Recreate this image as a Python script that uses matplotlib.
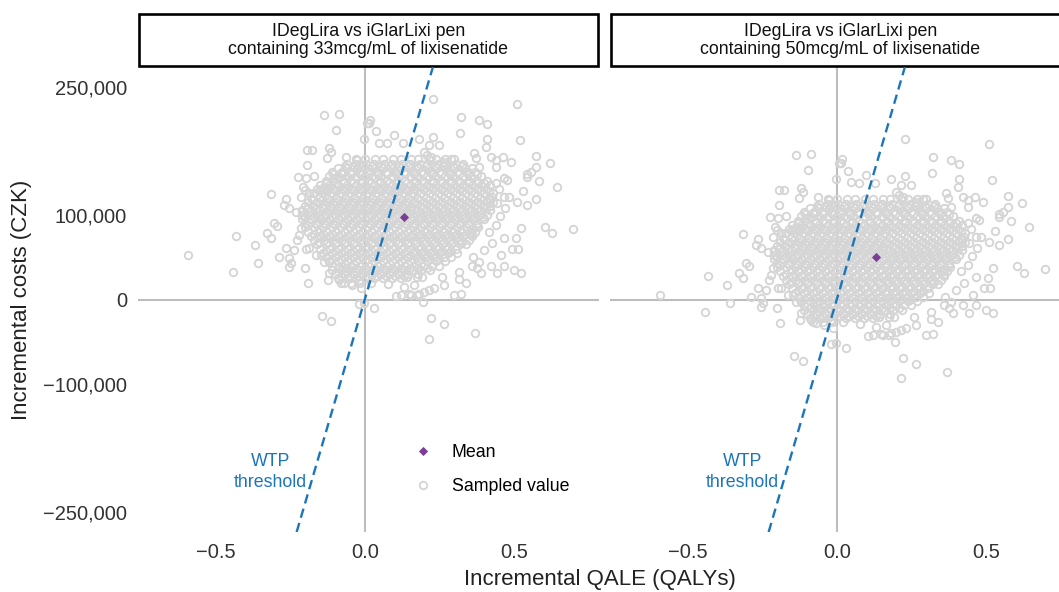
import matplotlib
matplotlib.use("Agg")
import matplotlib.pyplot as plt
from matplotlib.lines import Line2D
from matplotlib.patches import Rectangle
from matplotlib.ticker import FuncFormatter

plt.rcParams['font.family'] = ['Liberation Sans', 'DejaVu Sans']

panel_titles = ["IDegLira vs iGlarLixi pen\ncontaining 33mcg/mL of lixisenatide",
                "IDegLira vs iGlarLixi pen\ncontaining 50mcg/mL of lixisenatide"]

# willingness-to-pay threshold, CZK per QALY
wtp = 1200000

# mean incremental results (QALYs, thousand CZK)
mean_qale = [0.132, 0.132]
mean_cost = [97.4, 50.2]

out_qale = [-0.138, -0.087, -0.098, -0.004, 0.007, -0.195, -0.178, -0.121, -0.114, -0.127,
            -0.064, -0.027, -0.195, -0.027, -0.225, -0.198, -0.171, -0.208, -0.201, -0.188,
            -0.215, -0.315, -0.265, -0.272, -0.255, -0.232, -0.211, -0.138, -0.144, -0.128,
            -0.104, -0.081, -0.594, -0.430, -0.369, -0.440, -0.359, -0.329, -0.315, -0.305,
            -0.295, -0.265, -0.289, -0.255, -0.248, -0.255, -0.238, -0.228, -0.221, -0.215,
            -0.201, -0.191, -0.198, -0.188, -0.164, -0.148, -0.138, -0.121, -0.121, -0.124,
            -0.087, -0.070, -0.044, -0.020, -0.013, -0.087, -0.064, -0.044, -0.003, -0.144,
            -0.114, 0.228, 0.510, 0.017, 0.013, 0.037, 0.322, 0.383, 0.409, 0.319,
            0.097, 0.047, 0.074, 0.128, 0.181, 0.228, 0.248, 0.215, 0.198, 0.208,
            0.221, 0.409, 0.406, 0.520, 0.423, 0.440, 0.463, 0.490, 0.574, 0.621,
            0.289, 0.265, 0.366, 0.372, 0.383, 0.440, 0.574, 0.544, 0.557, 0.544,
            0.584, 0.466, 0.477, 0.440, 0.530, 0.644, 0.466, 0.483, 0.510, 0.544,
            0.574, 0.426, 0.443, 0.604, 0.628, 0.698, 0.523, 0.507, 0.493, 0.513,
            0.466, 0.456, 0.466, 0.500, 0.523, 0.443, 0.426, 0.423, 0.389, 0.383,
            0.362, 0.359, 0.376, 0.315, 0.315, 0.339, 0.322, 0.258, 0.265, 0.232,
            0.198, 0.195, 0.174, 0.191, 0.141, 0.164, 0.174, 0.131, 0.121, 0.154,
            0.077, 0.030, 0.221, 0.265, 0.215, 0.369, -0.020, 0.104, 0.148, 0.181,
            0.215, 0.299, 0.450, 0.470, 0.452, 0.440, 0.415, 0.400]

out_cost_33 = [217, 219, 200, 189, 208, 176, 176, 178, 174, 167,
               168, 164, 158, 154, 144, 143, 145, 133, 129, 125,
               121, 124, 118, 111, 108, 103, 104, 132, 129, 138,
               143, 149, 52, 75, 64, 32, 43, 78, 72, 90,
               87, 61, 50, 49, 43, 38, 58, 70, 76, 84,
               37, 19, 60, 61, 52, 52, 44, 44, 31, 23,
               23, 19, 17, 23, 13, 38, 37, 38, -4, -19,
               -25, 236, 230, 212, 208, 199, 215, 211, 207, 196,
               194, 185, 184, 184, 189, 192, 182, 182, 174, 170,
               168, 189, 180, 188, 168, 164, 168, 162, 169, 161,
               166, 162, 173, 167, 156, 156, 156, 148, 150, 144,
               140, 143, 141, 137, 128, 132, 121, 121, 115, 111,
               118, 121, 114, 86, 78, 83, 84, 72, 60, 60,
               73, 52, 40, 35, 31, 31, 66, 40, 31, 44,
               50, 40, 37, 32, 24, 20, 6, 26, 17, 13,
               9, -3, 26, 26, 26, 17, 5, 15, 5, 5,
               18, -10, -22, -29, -46, -39, -5, 4, 6, 7,
               11, 5, 130, 108, 98, 88, 80, 58]

out_cost_50 = [170, 172, 153, 142, 161, 129, 129, 131, 127, 120,
               121, 117, 111, 107, 97, 96, 98, 86, 82, 78,
               74, 77, 71, 64, 61, 56, 57, 85, 82, 91,
               96, 102, 5, 28, 17, -15, -4, 31, 25, 43,
               40, 14, 3, 2, -4, -9, 11, 23, 29, 37,
               -10, -28, 13, 14, 5, 5, -3, -3, -16, -24,
               -24, -28, -30, -24, -34, -9, -10, -9, -51, -66,
               -72, 189, 183, 165, 161, 152, 168, 164, 160, 149,
               147, 138, 137, 137, 142, 145, 135, 135, 127, 123,
               121, 142, 133, 141, 121, 117, 121, 115, 122, 114,
               119, 115, 126, 120, 109, 109, 109, 101, 103, 97,
               93, 96, 94, 90, 81, 85, 74, 74, 68, 64,
               71, 74, 67, 39, 31, 36, 37, 25, 13, 13,
               26, 5, -7, -12, -16, -16, 19, -7, -16, -3,
               3, -7, -10, -15, -23, -27, -41, -21, -30, -34,
               -38, -50, -21, -21, -21, -30, -42, -32, -42, -42,
               -29, -57, -69, -76, -93, -86, -52, -43, -41, -40,
               -36, -42, 83, 61, 51, 41, 33, 11]

# dense core of the cloud, estimated row by row (QALYs per cost band)
core_qale = [
    [-0.03, 0.00, 0.035, 0.06, 0.095, 0.12, 0.155, 0.18, 0.215, 0.24, 0.27, 0.30],
    [-0.06, -0.03, 0.005, 0.03, 0.065, 0.09, 0.125, 0.15, 0.185, 0.21, 0.245, 0.27, 0.305, 0.33],
    [-0.09, -0.06, -0.025, 0.00, 0.035, 0.06, 0.095, 0.12, 0.155, 0.18, 0.215, 0.24, 0.275, 0.30, 0.335, 0.36],
    [-0.11, -0.075, -0.05, -0.015, 0.01, 0.045, 0.07, 0.105, 0.13, 0.165, 0.19, 0.225, 0.25, 0.285, 0.31, 0.345, 0.37],
    [-0.12, -0.09, -0.06, -0.03, 0.00, 0.025, 0.055, 0.09, 0.115, 0.15, 0.175, 0.21, 0.235, 0.27, 0.295, 0.33, 0.355, 0.39],
    [-0.13, -0.105, -0.07, -0.045, -0.01, 0.015, 0.05, 0.075, 0.11, 0.135, 0.17, 0.195, 0.23, 0.255, 0.29, 0.315, 0.35, 0.375, 0.41],
    [-0.15, -0.12, -0.09, -0.06, -0.03, 0.00, 0.03, 0.06, 0.09, 0.12, 0.15, 0.18, 0.21, 0.24, 0.27, 0.30, 0.33, 0.36, 0.39, 0.42],
    [-0.16, -0.135, -0.105, -0.075, -0.045, -0.015, 0.015, 0.045, 0.075, 0.105, 0.135, 0.165, 0.195, 0.225, 0.255, 0.285, 0.315, 0.345, 0.375, 0.405],
    [-0.17, -0.14, -0.11, -0.08, -0.05, -0.02, 0.01, 0.04, 0.07, 0.10, 0.13, 0.16, 0.19, 0.22, 0.25, 0.28, 0.31, 0.34, 0.37, 0.40, 0.43],
    [-0.18, -0.155, -0.125, -0.095, -0.065, -0.035, -0.005, 0.025, 0.055, 0.085, 0.115, 0.145, 0.175, 0.205, 0.235, 0.265, 0.295, 0.325, 0.355, 0.385, 0.415],
    [-0.19, -0.16, -0.13, -0.10, -0.07, -0.04, -0.01, 0.02, 0.05, 0.08, 0.11, 0.14, 0.17, 0.20, 0.23, 0.26, 0.29, 0.32, 0.35, 0.38, 0.41, 0.43],
    [-0.20, -0.175, -0.145, -0.115, -0.085, -0.055, -0.025, 0.005, 0.035, 0.065, 0.095, 0.125, 0.155, 0.185, 0.215, 0.245, 0.275, 0.305, 0.335, 0.365, 0.395, 0.42],
    [-0.21, -0.18, -0.15, -0.12, -0.09, -0.06, -0.03, 0.00, 0.03, 0.06, 0.09, 0.12, 0.15, 0.18, 0.21, 0.24, 0.27, 0.30, 0.33, 0.36, 0.39, 0.42],
    [-0.21, -0.185, -0.155, -0.125, -0.095, -0.065, -0.035, -0.005, 0.025, 0.055, 0.085, 0.115, 0.145, 0.175, 0.205, 0.235, 0.265, 0.295, 0.325, 0.355, 0.385, 0.41],
    [-0.21, -0.18, -0.15, -0.12, -0.09, -0.06, -0.03, 0.00, 0.03, 0.06, 0.09, 0.12, 0.15, 0.18, 0.21, 0.24, 0.27, 0.30, 0.33, 0.36, 0.40],
    [-0.20, -0.165, -0.135, -0.105, -0.075, -0.045, -0.015, 0.015, 0.045, 0.075, 0.105, 0.135, 0.165, 0.195, 0.225, 0.255, 0.285, 0.315, 0.345, 0.375],
    [-0.20, -0.17, -0.14, -0.11, -0.08, -0.05, -0.02, 0.01, 0.04, 0.07, 0.10, 0.13, 0.16, 0.19, 0.22, 0.25, 0.28, 0.31, 0.34, 0.38],
    [-0.19, -0.155, -0.125, -0.095, -0.065, -0.035, -0.005, 0.025, 0.055, 0.085, 0.115, 0.145, 0.175, 0.205, 0.235, 0.265, 0.295, 0.325, 0.355, 0.37],
    [-0.18, -0.15, -0.12, -0.09, -0.06, -0.03, 0.00, 0.03, 0.06, 0.09, 0.12, 0.15, 0.18, 0.21, 0.24, 0.27, 0.30, 0.33, 0.36],
    [-0.17, -0.135, -0.105, -0.075, -0.045, -0.015, 0.015, 0.045, 0.075, 0.105, 0.135, 0.165, 0.195, 0.225, 0.255, 0.285, 0.315, 0.35],
    [-0.16, -0.13, -0.10, -0.07, -0.04, -0.01, 0.02, 0.05, 0.08, 0.11, 0.14, 0.17, 0.20, 0.23, 0.26, 0.29, 0.32, 0.34],
    [-0.15, -0.115, -0.085, -0.055, -0.025, 0.005, 0.035, 0.065, 0.095, 0.125, 0.155, 0.185, 0.215, 0.245, 0.275, 0.305],
    [-0.14, -0.11, -0.08, -0.05, -0.02, 0.01, 0.04, 0.07, 0.10, 0.13, 0.16, 0.19, 0.22, 0.25, 0.28, 0.31],
    [-0.13, -0.095, -0.065, -0.035, -0.005, 0.025, 0.055, 0.085, 0.115, 0.145, 0.175, 0.205, 0.235, 0.265, 0.29],
    [-0.12, -0.09, -0.06, -0.03, 0.00, 0.03, 0.06, 0.09, 0.12, 0.15, 0.18, 0.21, 0.24, 0.27],
    [-0.11, -0.075, -0.045, -0.015, 0.015, 0.045, 0.075, 0.105, 0.135, 0.165, 0.195, 0.225, 0.25],
    [-0.11, -0.08, -0.05, -0.02, 0.01, 0.04, 0.07, 0.10, 0.13, 0.16, 0.19, 0.22],
    [-0.10, -0.065, -0.035, -0.005, 0.025, 0.055, 0.085, 0.115, 0.145, 0.18],
    [-0.09, -0.06, -0.03, 0.00, 0.03, 0.06, 0.09, 0.12],
    [-0.08, -0.045, -0.015, 0.02],
    # in-between bands where the cloud is densest
    [-0.065, -0.035, -0.005, 0.025, 0.055, 0.085, 0.115, 0.145, 0.175, 0.205, 0.235, 0.265, 0.295, 0.325],
    [-0.105, -0.075, -0.045, -0.015, 0.015, 0.045, 0.075, 0.105, 0.135, 0.165, 0.195, 0.225, 0.255, 0.285, 0.315, 0.345, 0.375],
    [-0.13, -0.10, -0.07, -0.04, -0.01, 0.02, 0.05, 0.08, 0.11, 0.14, 0.17, 0.20, 0.23, 0.26, 0.29, 0.32, 0.35, 0.38, 0.40],
    [-0.155, -0.125, -0.095, -0.065, -0.035, -0.005, 0.025, 0.055, 0.085, 0.115, 0.145, 0.175, 0.205, 0.235, 0.265, 0.295, 0.325, 0.355, 0.385, 0.415],
    [-0.175, -0.145, -0.115, -0.085, -0.055, -0.025, 0.005, 0.035, 0.065, 0.095, 0.125, 0.155, 0.185, 0.215, 0.245, 0.275, 0.305, 0.335, 0.365, 0.395, 0.42],
    [-0.195, -0.165, -0.135, -0.105, -0.075, -0.045, -0.015, 0.015, 0.045, 0.075, 0.105, 0.135, 0.165, 0.195, 0.225, 0.255, 0.285, 0.315, 0.345, 0.375, 0.405],
    [-0.20, -0.17, -0.14, -0.11, -0.08, -0.05, -0.02, 0.01, 0.04, 0.07, 0.10, 0.13, 0.16, 0.19, 0.22, 0.25, 0.28, 0.31, 0.34, 0.37, 0.395],
    [-0.19, -0.16, -0.13, -0.10, -0.07, -0.04, -0.01, 0.02, 0.05, 0.08, 0.11, 0.14, 0.17, 0.20, 0.23, 0.26, 0.29, 0.32, 0.35, 0.375],
    [-0.17, -0.14, -0.11, -0.08, -0.05, -0.02, 0.01, 0.04, 0.07, 0.10, 0.13, 0.16, 0.19, 0.22, 0.25, 0.28, 0.31, 0.34, 0.36],
    [-0.155, -0.125, -0.095, -0.065, -0.035, -0.005, 0.025, 0.055, 0.085, 0.115, 0.145, 0.175, 0.205, 0.235, 0.265, 0.295, 0.325],
    [-0.13, -0.10, -0.07, -0.04, -0.01, 0.02, 0.05, 0.08, 0.11, 0.14, 0.17, 0.20, 0.23, 0.26, 0.29],
    [-0.11, -0.08, -0.05, -0.02, 0.01, 0.04, 0.07, 0.10, 0.13, 0.16, 0.19, 0.22, 0.25],
    [-0.09, -0.06, -0.03, 0.00, 0.03, 0.06, 0.09, 0.12, 0.15, 0.18, 0.21],
    [-0.08, -0.05, -0.02, 0.01, 0.04, 0.07, 0.10, 0.13],
]
core_cost_33 = [165, 160, 155, 150, 145, 140, 135, 130, 125, 120, 115, 110, 105, 100, 95,
                90, 85, 80, 75, 70, 65, 60, 55, 50, 45, 40, 35, 30, 25, 20,
                157.5, 147.5, 137.5, 127.5, 117.5, 107.5, 97.5, 87.5, 77.5, 67.5,
                57.5, 47.5, 37.5, 27.5]
core_cost_50 = [118, 113, 108, 103, 98, 93, 88, 83, 78, 73, 68, 63, 58, 53, 48,
                43, 38, 33, 28, 23, 18, 13, 8, 3, -2, -7, -12, -17, -22, -27,
                110.5, 100.5, 90.5, 80.5, 70.5, 60.5, 50.5, 40.5, 30.5, 20.5,
                10.5, 0.5, -9.5, -19.5]

y_ticks = [-250000, -100000, 0, 100000, 250000]
x_ticks = [-0.5, 0.0, 0.5]
x_tick_labels = ["\u22120.5", "0.0", "0.5"]

grey_pt = "#d5d5d5"
zero_col = "#bdbdbd"
wtp_col = "#1b75bb"
mean_col = "#7e3c96"
tick_col = "#333333"

W, H = 1059, 592
fig = plt.figure(figsize=(W / 100, H / 100), dpi=100)
ax1 = fig.add_axes([138 / W, 60 / H, 461 / W, 465 / H])
ax2 = fig.add_axes([610 / W, 60 / H, 461 / W, 465 / H])

panels = [(ax1, core_cost_33, out_cost_33), (ax2, core_cost_50, out_cost_50)]
for i, (ax, core_cost, out_cost) in enumerate(panels):
    xs = list(out_qale)
    ys = [c * 1000 for c in out_cost]
    for row, c in zip(core_qale, core_cost):
        xs.extend(row)
        ys.extend([c * 1000] * len(row))

    ax.axhline(0, color=zero_col, lw=1.5, zorder=1)
    ax.axvline(0, color=zero_col, lw=1.5, zorder=1)
    ax.plot(xs, ys, linestyle='none', marker='o', mfc='none', mec=grey_pt,
            ms=5.4, mew=1.35, zorder=2)
    ax.axline((0, 0), slope=wtp, color=wtp_col, lw=1.7, dashes=(4.0, 2.3), zorder=3)
    ax.plot([mean_qale[i]], [mean_cost[i] * 1000], linestyle='none', marker='D',
            color=mean_col, ms=3.6, mew=0.6, zorder=4)

    ax.text(-0.315, -203000, "WTP\nthreshold", color=wtp_col, fontsize=12.8,
            ha='center', va='center', linespacing=1.3)

    ax.set_xlim(-0.76, 0.785)
    ax.set_ylim(-274000, 274000)
    ax.set_xticks(x_ticks)
    ax.set_xticklabels(x_tick_labels)
    ax.set_yticks(y_ticks)
    ax.yaxis.set_major_formatter(FuncFormatter(lambda v, p: f"{v:,.0f}".replace('-', '\u2212')))
    ax.tick_params(length=0, labelsize=14.5, labelcolor=tick_col, pad=8)
    if i == 1:
        ax.tick_params(axis='y', labelleft=False)
    for s in ax.spines.values():
        s.set_visible(False)

    ax.add_patch(Rectangle((0.002, 1.0028), 0.996, 0.1122, transform=ax.transAxes,
                           facecolor='white', edgecolor='black', lw=1.9, clip_on=False))
    ax.text(0.5, 1.056, panel_titles[i], transform=ax.transAxes, ha='center', va='center',
            fontsize=12.8, linespacing=1.08, color='#111111')

handles = [Line2D([], [], linestyle='none', marker='D', color=mean_col, ms=3.6, mew=0.6),
           Line2D([], [], linestyle='none', marker='o', mfc='none', mec=grey_pt, ms=5.4, mew=1.35)]
ax1.legend(handles, ["Mean", "Sampled value"], loc='center left', bbox_to_anchor=(0.598, 0.1344),
           frameon=False, fontsize=12.8, handlelength=1.0, handletextpad=1.13,
           labelspacing=0.95, borderpad=0, borderaxespad=0)

fig.text(22 / W, 1 - 299.5 / H, "Incremental costs (CZK)", rotation=90, ha='center', va='center',
         fontsize=16, color='#222222')
fig.text(600 / W, 1 - 580 / H, "Incremental QALE (QALYs)", ha='center', va='center',
         fontsize=16, color='#222222')

fig.savefig("out.png", dpi=100)
